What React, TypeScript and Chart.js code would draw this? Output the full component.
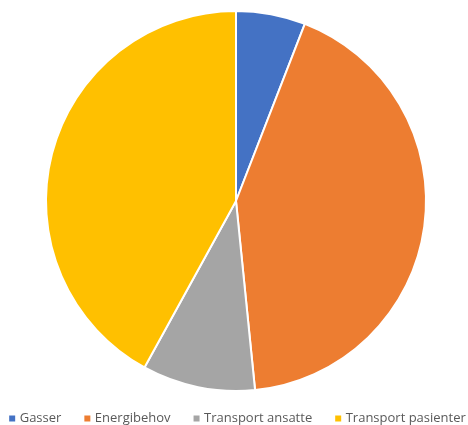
import React, { useEffect, useRef } from "react";
import { Chart, registerables } from "chart.js";

Chart.register(...registerables);

const categories = ["Gasser", "Energibehov", "Transport ansatte", "Transport pasienter"];
const values = [5.9, 42.5, 9.6, 42.0];
const colors = ["#4472C4", "#ED7D31", "#A5A5A5", "#FFC000"];

export default function App() {
  const ref = useRef<HTMLCanvasElement | null>(null);
  useEffect(() => {
    if (!ref.current) return;
    const baseGen = (Chart as any).overrides.pie.plugins.legend.labels.generateLabels;
    const chart = new Chart(ref.current, {
      type: "pie",
      data: {
        labels: categories,
        datasets: [
          {
            data: values,
            backgroundColor: colors,
            borderColor: "#ffffff",
            borderWidth: 2,
            radius: 190,
            clip: false,
          } as any,
        ],
      },
      options: {
        animation: false,
        responsive: false,
        maintainAspectRatio: false,
        layout: { padding: { top: 15, bottom: -10, left: -20, right: -25 } },
        plugins: {
          tooltip: { enabled: false },
          legend: {
            position: "bottom",
            labels: {
              usePointStyle: true,
              pointStyle: "rect",
              boxWidth: 2,
              boxHeight: 6,
              padding: 25,
              color: "#595959",
              font: { size: 13, family: "'Open Sans', sans-serif" },
              generateLabels: (c: any) =>
                baseGen(c).map((l: any) => ({ ...l, lineWidth: 0, strokeStyle: "rgba(0,0,0,0)", pointStyle: "rect" })),
            },
          },
        },
      },
    });
    return () => chart.destroy();
  }, []);
  return (
    <div style={{ position: "absolute", left: 0, top: 0, width: 468, height: 425, background: "#fff", overflow: "hidden" }}>
      <canvas ref={ref} width={468} height={425} style={{ position: "absolute", left: 2, top: 0, width: 468, height: 425 }} />
    </div>
  );
}
